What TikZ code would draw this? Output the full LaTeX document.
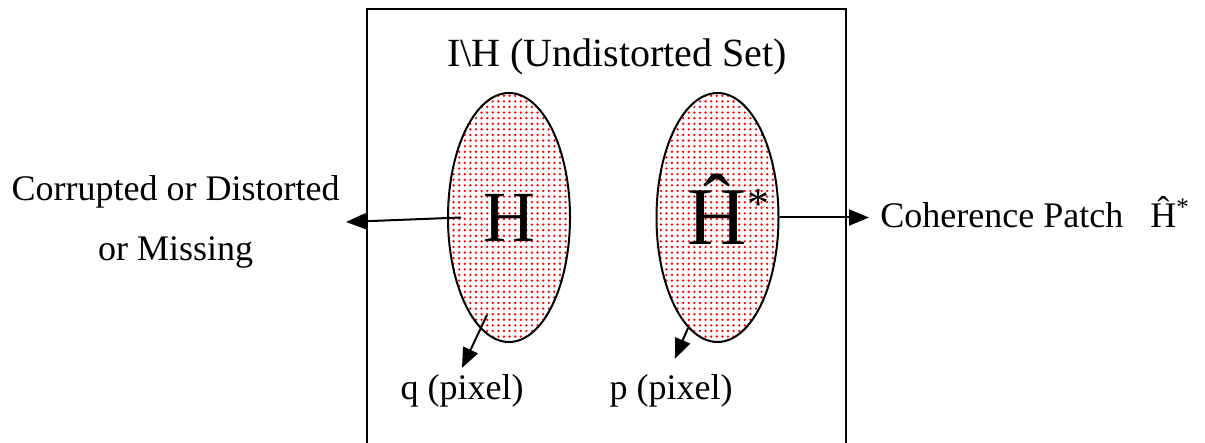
\documentclass[tikz,border=0pt]{standalone}
\usepackage{fontspec}
\setmainfont{Liberation Serif}
\usepackage{tikz}
\usetikzlibrary{arrows.meta,shapes.geometric,patterns}
\definecolor{dotred}{HTML}{FF0000}

%% Trama de puntos rojos, algo mas marcada que la 'dots' de TikZ.
\pgfdeclarepatternformonly{reddots}{\pgfqpoint{-1pt}{-1pt}}{\pgfqpoint{2pt}{2pt}}
  {\pgfqpoint{2.8pt}{2.8pt}}
  {\pgfpathcircle{\pgfqpoint{0pt}{0pt}}{.65pt}\pgfusepath{fill}}

\begin{document}
\begin{tikzpicture}[x=0.5pt, y=-0.5pt,
  font=\fontsize{18}{30}\selectfont,
  >={Triangle[length=10pt,width=8pt]},
  region/.style={ellipse, draw=black, line width=1pt, pattern=reddots,
              pattern color=dotred, minimum width=61pt, minimum height=124.5pt,
              inner sep=0pt},
  link/.style={->, line width=1pt}]

%% Lienzo fijo en pixeles del original (y hacia abajo).
\useasboundingbox (0,0) rectangle (1205,443);

%% ---- marco: el borde inferior queda fuera del lienzo ----
\draw[line width=1pt] (367,443) |- (846,9) -- (846,443);

\node[anchor=base, font=\fontsize{20}{24}\selectfont] (undist) at (617,67)
  {I\textbackslash H (Undistorted Set)};

%% ---- las dos regiones ----
\node[region, font=\fontsize{36}{36}\selectfont] (hset) at (509,217.5) {H};
%% ancho nulo y text height fijo: ni la estrella ni el acento deforman la elipse
\node[region, font=\fontsize{41}{41}\selectfont, text height=27pt,
      text depth=0pt] (hhat) at (717.5,217.5)
  {\makebox[0pt]{\hphantom{\fontsize{22}{22}\selectfont *}\^{H}%
   \raisebox{13pt}{\fontsize{22}{22}\selectfont *}}};

%% ---- rotulos ----
\node[anchor=east, align=center, inner sep=3pt] (lost) at (346,222)
  {Corrupted or Distorted\\or Missing};
\node[anchor=base west, inner sep=5.5pt] (patch) at (869,228)
  {Coherence Patch~~~\^{H}\textsuperscript{*}};
\node[anchor=base] (qpix) at (462,400) {q (pixel)};
\node[anchor=base] (ppix) at (671,400) {p (pixel)};

\coordinate (qsrc) at (487,315);
\coordinate (psrc) at (688,328);

%% ---- flechas ----
\draw[link] ([xshift=7pt]hset.west) -- (lost.east);
\draw[link] (hhat.east) -- (hhat.east -| patch.west);
\draw[link] (qsrc) -- (qpix.north);
\draw[link, shorten >=5pt] (psrc) -- (ppix.north);

\end{tikzpicture}
\end{document}
